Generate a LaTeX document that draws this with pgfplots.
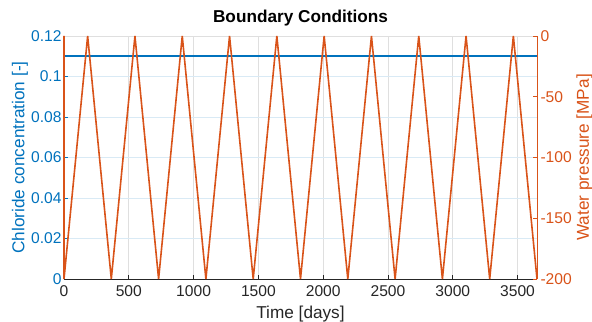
\documentclass[border=0pt]{standalone}
\usepackage{pgfplots}
\pgfplotsset{compat=1.18}
\usepackage{pgfplotstable}
\usepackage{fontspec}
\setmainfont{Liberation Sans}
\definecolor{mblue}{RGB}{0,114,189}
\definecolor{morange}{RGB}{217,83,25}
\definecolor{mdark}{RGB}{38,38,38}
\definecolor{gridx}{RGB}{223,223,223}
\definecolor{gridy}{RGB}{217,234,245}
\newcommand\tickfont{\fontsize{15.6bp}{18bp}\selectfont}
\newcommand\labfont{\fontsize{17.2bp}{20bp}\selectfont}

\pgfplotstableread{
t c
0 0.11
3650 0.11
}\chloride

\pgfplotstableread{
t p
0 0
0 -200
182.5 0
365 -200
547.5 0
730 -200
912.5 0
1095 -200
1277.5 0
1460 -200
1642.5 0
1825 -200
2007.5 0
2190 -200
2372.5 0
2555 -200
2737.5 0
2920 -200
3102.5 0
3285 -200
3467.5 0
3650 -200
}\pressure

\begin{document}
\begin{tikzpicture}
\begin{axis}[
  scale only axis, width=473bp, height=243bp,
  at={(64bp,43bp)}, anchor=south west,
  xmin=0, xmax=3650, ymin=0, ymax=0.12,
  axis x line*=bottom, axis y line*=left,
  x axis line style={draw=mdark, line width=0.8bp},
  y axis line style={draw=mblue, line width=0.8bp},
  xtick={0,500,1000,1500,2000,2500,3000,3500},
  xticklabels={0,500,1000,1500,2000,2500,3000,3500},
  ytick={0,0.02,0.04,0.06,0.08,0.1,0.12},
  yticklabels={0,0.02,0.04,0.06,0.08,0.1,0.12},
  tick align=inside, major tick length=4bp,
  xtick style={draw=mdark, line width=0.8bp},
  ytick style={draw=mblue, line width=0.8bp},
  x tick label style={font=\tickfont, text=mdark, yshift=-3bp},
  y tick label style={font=\tickfont, text=mblue, xshift=1bp},
  grid=major,
  major x grid style={draw=gridx, line width=0.7bp},
  major y grid style={draw=gridy, line width=0.7bp},
  xlabel={Time [days]},
  xlabel style={font=\labfont, text=mdark, at={(axis description cs:0.5,-0.162)}, anchor=base},
  ylabel={Chloride concentration [-]},
  ylabel style={font=\labfont, text=mblue, at={(axis description cs:-0.093,0.5)}, anchor=center},
  title={Boundary Conditions},
  title style={font=\bfseries\labfont, text=black, at={(axis description cs:0.5,1.032)}, anchor=base},
]
\draw[gridx, line width=0.7bp] (rel axis cs:0,1) -- (rel axis cs:1,1);
\addplot[mblue, line width=1.6bp] table[x=t, y=c] {\chloride};
\end{axis}
\begin{axis}[
  scale only axis, width=473bp, height=243bp,
  at={(64bp,43bp)}, anchor=south west,
  xmin=0, xmax=3650, ymin=-200, ymax=0,
  axis x line=none, axis y line*=right,
  y axis line style={draw=morange, line width=0.8bp},
  ytick={-200,-150,-100,-50,0},
  yticklabels={-200,-150,-100,-50,0},
  tick align=inside, major tick length=4bp,
  ytick style={draw=morange, line width=0.8bp},
  y tick label style={font=\tickfont, text=morange},
  ylabel={Water pressure [MPa]},
  ylabel style={font=\labfont, text=morange, at={(axis description cs:1.1,0.5)}, anchor=center},
  clip=false,
]
\addplot[morange, line width=1.6bp] table[x=t, y=p] {\pressure};
\end{axis}
\pgfresetboundingbox
\useasboundingbox (0,0) rectangle (592bp,322bp);
\end{tikzpicture}
\end{document}
